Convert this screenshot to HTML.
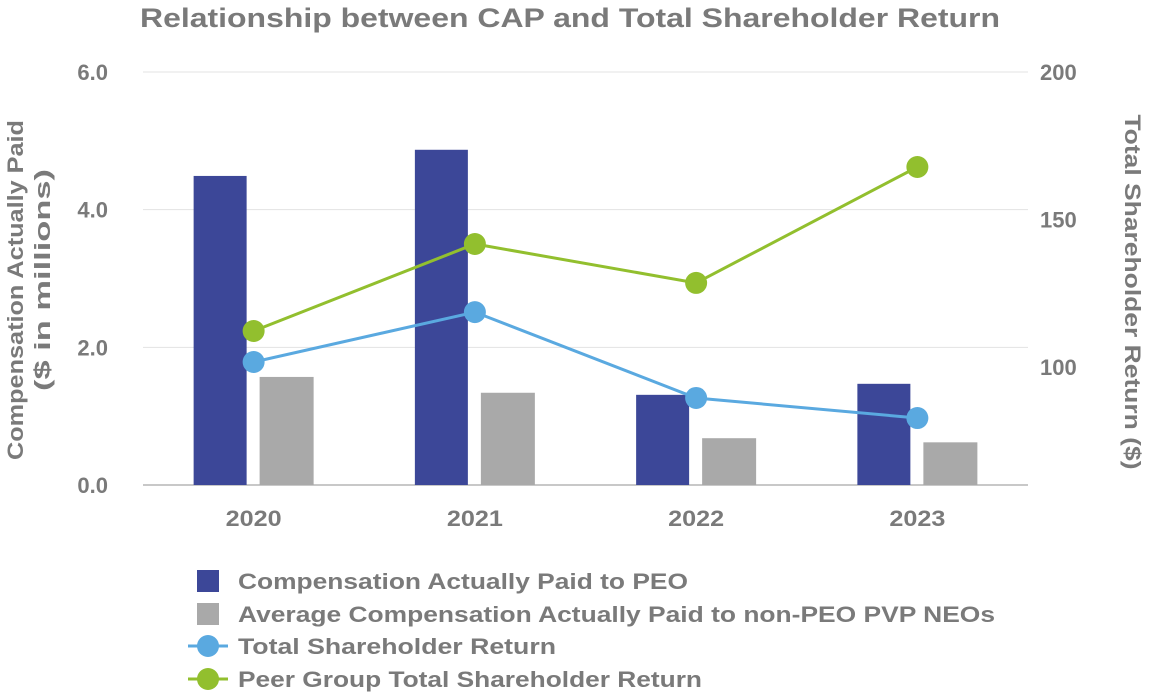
<!DOCTYPE html>
<html><head><meta charset="utf-8"><style>
body{margin:0;background:#fff;}
svg text{font-family:"Liberation Sans",Arial,sans-serif;font-weight:bold;fill:#7a7a7a;}
</style></head><body>
<svg id="chart" width="1150" height="694" viewBox="0 0 1150 694" xmlns="http://www.w3.org/2000/svg">
<text x="140" y="27" font-size="27" textLength="860" lengthAdjust="spacingAndGlyphs">Relationship between CAP and Total Shareholder Return</text>
<g id="grid"></g><g id="bars"></g><g id="lines"></g><g id="axes"></g>
<text transform="translate(23,290) rotate(-90)" text-anchor="middle" font-size="22" textLength="340" lengthAdjust="spacingAndGlyphs">Compensation Actually Paid</text>
<text transform="translate(50,280) rotate(-90)" text-anchor="middle" font-size="22" textLength="222" lengthAdjust="spacingAndGlyphs">($ in millions)</text>
<text transform="translate(1125,292) rotate(90)" text-anchor="middle" font-size="22" textLength="355" lengthAdjust="spacingAndGlyphs">Total Shareholder Return ($)</text>
<g font-size="22">
<rect x="197" y="570" width="22" height="22" fill="#3c4798"/>
<text x="238" y="589" textLength="450" lengthAdjust="spacingAndGlyphs">Compensation Actually Paid to PEO</text>
<rect x="197" y="603" width="22" height="22" fill="#a9a9a9"/>
<text x="238" y="622" textLength="757" lengthAdjust="spacingAndGlyphs">Average Compensation Actually Paid to non-PEO PVP NEOs</text>
<line x1="188" y1="646" x2="228" y2="646" stroke="#5aa9e0" stroke-width="3"/>
<circle cx="208" cy="646" r="11" fill="#5aa9e0"/>
<text x="238" y="654" textLength="318" lengthAdjust="spacingAndGlyphs">Total Shareholder Return</text>
<line x1="188" y1="679" x2="228" y2="679" stroke="#92bf2e" stroke-width="3"/>
<circle cx="208" cy="679" r="11" fill="#92bf2e"/>
<text x="238" y="687" textLength="464" lengthAdjust="spacingAndGlyphs">Peer Group Total Shareholder Return</text>
</g>
</svg>
<script>
const categories=["2020","2021","2022","2023"];
const peoCap=[4.49,4.87,1.31,1.47];
const nonPeoCap=[1.57,1.34,0.68,0.62];
const tsr=[101.7,118.6,89.5,82.7];
const peerTsr=[112.2,141.7,128.5,167.8];
const leftTicks=["0.0","2.0","4.0","6.0"];
const rightTicks=["100","150","200"];
const NS="http://www.w3.org/2000/svg";
const X0=143,X1=1028,Y0=485,Y1=72;
const bw=(X1-X0)/categories.length;
const xc=i=>X0+bw*(i+0.5);
const yL=v=>Y0-(v/6)*(Y0-Y1);
const yR=v=>Y0-((v-60)/140)*(Y0-Y1);
function mk(tag,attrs,parent){const e=document.createElementNS(NS,tag);for(const k in attrs)e.setAttribute(k,attrs[k]);document.getElementById(parent).appendChild(e);return e;}
leftTicks.forEach(t=>{const v=parseFloat(t);const y=yL(v);
 const g=mk('line',{x1:X0,x2:X1,y1:y,y2:y,stroke:v===0?'#c8c8c8':'#e3e3e3','stroke-width':v===0?2:1},'grid');
 
 
 const tx=mk('text',{x:108,y:y+8,'text-anchor':'end','font-size':22},'axes');tx.textContent=t;
 
 
});
rightTicks.forEach(t=>{const y=yR(parseFloat(t));
 const tx=mk('text',{x:1040,y:y+8,'font-size':22},'axes');tx.textContent=t;
 
 
});
categories.forEach((c,i)=>{
 const tx=mk('text',{x:xc(i),y:526,'text-anchor':'middle','font-size':22,textLength:56,lengthAdjust:'spacingAndGlyphs'},'axes');tx.textContent=c;
 
 
 const b1=mk('rect',{x:xc(i)-60,y:yL(peoCap[i]),width:53,height:Y0-yL(peoCap[i]),fill:'#3c4798'},'bars');
 
 
 const b2=mk('rect',{x:xc(i)+6,y:yL(nonPeoCap[i]),width:54,height:Y0-yL(nonPeoCap[i]),fill:'#a9a9a9'},'bars');
 
 
});
[[tsr,'#5aa9e0','tsr'],[peerTsr,'#92bf2e','peer-tsr']].forEach(([d,col,nm])=>{
 const pl=mk('polyline',{points:d.map((v,i)=>xc(i)+','+yR(v)).join(' '),fill:'none',stroke:col,'stroke-width':3},'lines');
 
 
 d.forEach((v,i)=>{const c=mk('circle',{cx:xc(i),cy:yR(v),r:11,fill:col},'lines');
  
  });
});
</script>
</body></html>
